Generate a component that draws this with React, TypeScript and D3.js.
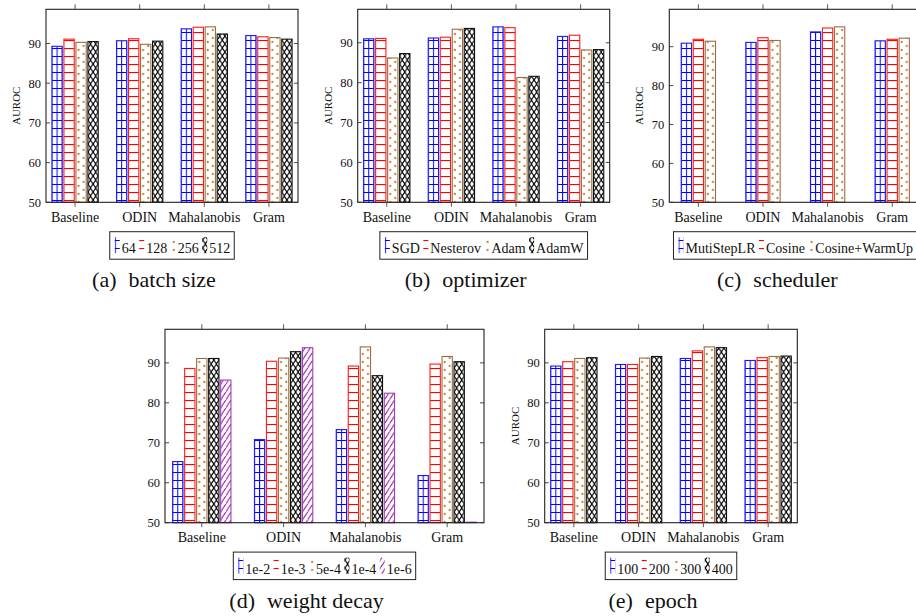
import React from 'react';
import * as d3 from 'd3';

const FONT = "'Liberation Serif', 'Times New Roman', Times, serif";

const categories = ['Baseline', 'ODIN', 'Mahalanobis', 'Gram'];
const yTicks = [50, 60, 70, 80, 90];

// (a) batch size
const batchLabels = ['64', '128', '256', '512'];
const batch64 = [89.3, 90.7, 93.7, 92.0];
const batch128 = [91.1, 91.2, 94.1, 91.7];
const batch256 = [90.3, 89.8, 94.2, 91.5];
const batch512 = [90.5, 90.6, 92.4, 91.1];

// (b) optimizer
const optLabels = ['SGD', 'Nesterov', 'Adam', 'AdamW'];
const optSGD = [91.0, 91.2, 94.0, 91.6];
const optNesterov = [91.1, 91.4, 93.8, 91.9];
const optAdam = [86.2, 93.4, 81.3, 88.2];
const optAdamW = [87.3, 93.6, 81.6, 88.3];

// (c) scheduler
const schedLabels = ['MutiStepLR', 'Cosine', 'Cosine+WarmUp'];
const schedMulti = [90.9, 91.1, 93.8, 91.5];
const schedCosine = [91.9, 92.3, 94.8, 91.9];
const schedWarm = [91.4, 91.6, 95.1, 92.2];

// (d) weight decay
const wdLabels = ['1e-2', '1e-3', '5e-4', '1e-4', '1e-6'];
const wd1e2 = [65.3, 70.8, 73.3, 61.8];
const wd1e3 = [88.6, 90.4, 89.2, 89.7];
const wd5e4 = [91.1, 91.2, 94.0, 91.6];
const wd1e4 = [91.1, 92.8, 86.8, 90.3];
const wd1e6 = [85.7, 93.8, 82.4, 50.0];

// (e) epoch
const epLabels = ['100', '200', '300', '400'];
const ep100 = [89.2, 89.6, 91.1, 90.6];
const ep200 = [90.3, 89.6, 93.0, 91.3];
const ep300 = [91.1, 91.2, 94.0, 91.6];
const ep400 = [91.3, 91.6, 93.8, 91.7];

type Sty = 'grid' | 'hlines' | 'dots' | 'cross' | 'nelines';
const strokeColor: Record<Sty, string> = {
  grid: '#1a1aff',
  hlines: '#ff1a1a',
  dots: '#9c6d42',
  cross: '#111111',
  nelines: '#a23cbc',
};

interface PanelSpec {
  id: string;
  left: number;
  top: number;
  width: number;
  height: number;
  labels: string[];
  values: number[][];
  styles: Sty[];
  tag: string;
  caption: string;
  yLabel: boolean;
}

const four: Sty[] = ['grid', 'hlines', 'dots', 'cross'];

const panels: PanelSpec[] = [
  { id: 'a', left: 46, top: 9.3, width: 252, height: 193, labels: batchLabels,
    values: [batch64, batch128, batch256, batch512], styles: four, tag: '(a)', caption: 'batch size', yLabel: true },
  { id: 'b', left: 357.7, top: 9.3, width: 252, height: 193, labels: optLabels,
    values: [optSGD, optNesterov, optAdam, optAdamW], styles: four, tag: '(b)', caption: 'optimizer', yLabel: true },
  { id: 'c', left: 669.3, top: 9.3, width: 252, height: 193, labels: schedLabels,
    values: [schedMulti, schedCosine, schedWarm], styles: ['grid', 'hlines', 'dots'], tag: '(c)', caption: 'scheduler', yLabel: true },
  { id: 'd', left: 165, top: 329.3, width: 319, height: 193.4, labels: wdLabels,
    values: [wd1e2, wd1e3, wd5e4, wd1e4, wd1e6], styles: ['grid', 'hlines', 'dots', 'cross', 'nelines'], tag: '(d)', caption: 'weight decay', yLabel: false },
  { id: 'e', left: 544.7, top: 329.3, width: 252.6, height: 193.4, labels: epLabels,
    values: [ep100, ep200, ep300, ep400], styles: four, tag: '(e)', caption: 'epoch', yLabel: true },
];

let ctx: CanvasRenderingContext2D | null = null;
function textWidth(t: string, size: number): number {
  if (!ctx) ctx = document.createElement('canvas').getContext('2d');
  if (!ctx) return t.length * size * 0.5;
  ctx.font = `${size}px 'Liberation Serif'`;
  return ctx.measureText(t).width;
}

const BAR_W = 10.3;
const TILE_W = BAR_W / 2;

function Patterns() {
  return (
    <defs>
      <pattern id="p-grid" patternUnits="userSpaceOnUse" x={-0.5} y={0} width={TILE_W} height={8}>
        <rect x={0} y={0} width={1} height={8} fill="#0000ff" />
        <rect x={0} y={0} width={TILE_W} height={1} fill="#0000ff" />
      </pattern>
      <pattern id="p-hlines" patternUnits="userSpaceOnUse" x={0} y={0} width={TILE_W} height={8}>
        <rect x={0} y={0} width={TILE_W} height={1.1} fill="#ff0000" />
      </pattern>
      <pattern id="p-dots" patternUnits="userSpaceOnUse" x={0} y={0} width={BAR_W} height={8}>
        <circle cx={2.6} cy={2} r={1.15} fill="#c0843f" />
        <circle cx={7.7} cy={6} r={1.15} fill="#c0843f" />
      </pattern>
      <pattern id="p-cross" patternUnits="userSpaceOnUse" x={0} y={0} width={TILE_W} height={8}>
        <path d={`M${-TILE_W},-8L${2 * TILE_W},16M${2 * TILE_W},-8L${-TILE_W},16`} stroke="#000" strokeWidth={1.2} fill="none" />
      </pattern>
      <pattern id="p-nelines" patternUnits="userSpaceOnUse" x={0} y={0} width={TILE_W} height={8}>
        <path d={`M${-TILE_W},16L${2 * TILE_W},-8M${-2 * TILE_W},16L${TILE_W},-8M0,24L${3 * TILE_W},0`} stroke="#9b1fb2" strokeWidth={1.1} fill="none" />
      </pattern>
    </defs>
  );
}

function Panel({ p }: { p: PanelSpec }) {
  const x = d3.scaleLinear().domain([-0.45, categories.length - 1 + 0.45]).range([p.left, p.left + p.width]);
  const maxV = d3.max(p.values.flat()) as number;
  const yMax = maxV + 0.1 * (maxV - 50);
  const bottom = p.top + p.height;
  const y = d3.scaleLinear().domain([50, yMax]).range([bottom, p.top]);
  const n = p.values.length;
  const shift = 12;
  const right = p.left + p.width;
  const cx = p.left + p.width / 2;

  // legend layout
  const LSIZE = 14;
  const glyphW = 7;
  const items = p.labels.map((l) => ({ l, w: textWidth(l, LSIZE) }));
  let total = 4;
  const pos: number[] = [];
  items.forEach((it, i) => {
    pos.push(total);
    total += glyphW + 1 + it.w + (i < items.length - 1 ? 2.5 : 0);
  });
  total += 4;
  const boxLeft = cx - total / 2;
  const boxTop = bottom + 29.4;
  const boxH = 27.5;
  const baseY = boxTop + 21.5;

  return (
    <g>
      {/* bars */}
      {p.values.map((series, s) =>
        series.map((v, i) => {
          const c = x(i) + (s - (n - 1) / 2) * shift;
          const bx = c - BAR_W / 2;
          const top = y(v);
          const h = Math.max(bottom - top, 0.5);
          return (
            <g key={`${s}-${i}`} transform={`translate(${bx},0)`}>
              <rect x={0} y={bottom - h} width={BAR_W} height={h} fill="#fff" />
              <rect x={0} y={bottom - h} width={BAR_W} height={h} fill={`url(#p-${p.styles[s]})`}
                stroke={strokeColor[p.styles[s]]} strokeWidth={1.1} />
            </g>
          );
        })
      )}
      {/* frame */}
      <rect x={p.left} y={p.top} width={p.width} height={p.height} fill="none" stroke="#222" strokeWidth={1.1} />
      {/* y ticks */}
      {yTicks.map((t) => (
        <g key={t}>
          <line x1={p.left} x2={p.left + 4} y1={y(t)} y2={y(t)} stroke="#333" strokeWidth={0.9} />
          <line x1={right - 4} x2={right} y1={y(t)} y2={y(t)} stroke="#333" strokeWidth={0.9} />
          <text x={p.left - 5} y={y(t)} dy="0.35em" textAnchor="end" fontFamily={FONT} fontSize={12.5} fill="#111">{t}</text>
        </g>
      ))}
      {/* x ticks & labels */}
      {categories.map((c, i) => (
        <g key={c}>
          <line x1={x(i)} x2={x(i)} y1={p.top - 5} y2={p.top} stroke="#444" strokeWidth={0.9} />
          <line x1={x(i)} x2={x(i)} y1={bottom} y2={bottom + 4.5} stroke="#444" strokeWidth={0.9} />
          <text x={x(i)} y={bottom + 19.5} textAnchor="middle" fontFamily={FONT} fontSize={14} fill="#111">{c}</text>
        </g>
      ))}
      {p.yLabel && (
        <text transform={`translate(${p.left - 30},${(p.top + bottom) / 2}) rotate(-90)`} textAnchor="middle" dy="0.35em"
          fontFamily={FONT} fontSize={11} fill="#111">AUROC</text>
      )}
      {/* legend */}
      <rect x={boxLeft} y={boxTop} width={total} height={boxH} fill="#fff" stroke="#222" strokeWidth={1} />
      {items.map((it, i) => {
        const gx = boxLeft + pos[i];
        const st = p.styles[i];
        return (
          <g key={it.l}>
            <g transform={`translate(${gx + 1.5},0)`}>
              <rect x={-0.5} y={baseY - 16} width={5} height={16} fill={`url(#p-${st})`} />
            </g>
            <text x={gx + glyphW + 1} y={baseY} fontFamily={FONT} fontSize={LSIZE} fill="#111">{it.l}</text>
          </g>
        );
      })}
      {/* caption */}
      <text x={cx - 18} y={bottom + 85} textAnchor="middle" fontFamily={FONT} fontSize={22} fill="#111">
        {p.tag}
        <tspan dx={12}>{p.caption}</tspan>
      </text>
    </g>
  );
}

export default function App() {
  return (
    <svg width={916} height={616} viewBox="0 0 916 616" style={{ position: 'absolute', left: 0, top: 0, background: '#fff' }}>
      <Patterns />
      <rect x={0} y={0} width={916} height={616} fill="#fff" />
      {panels.map((p) => (
        <Panel key={p.id} p={p} />
      ))}
    </svg>
  );
}
